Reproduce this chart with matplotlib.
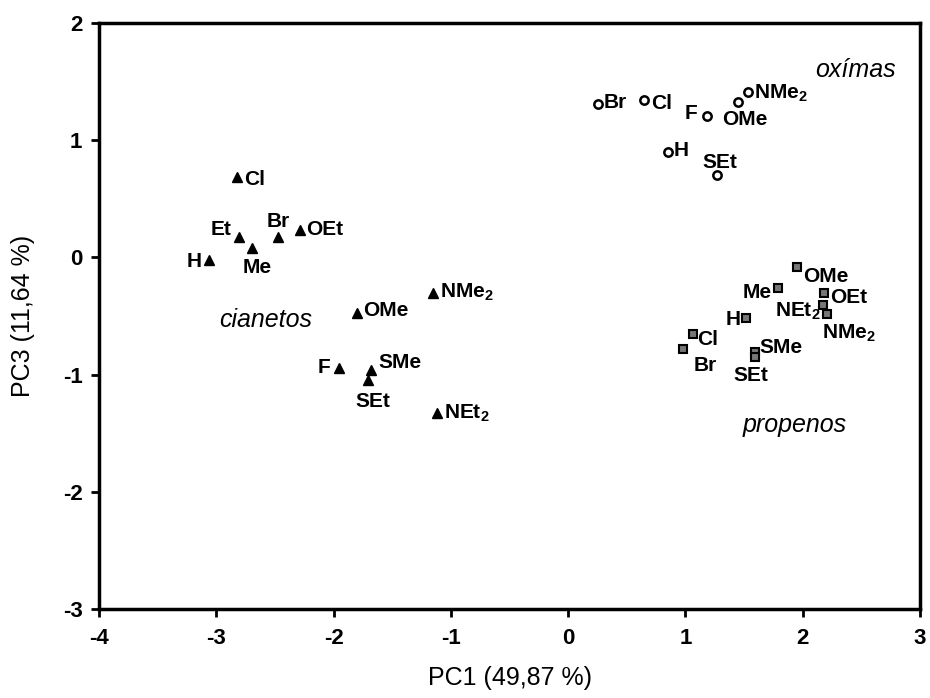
import matplotlib
matplotlib.use('Agg')
import matplotlib.pyplot as plt

# PCA scores (PC1 vs PC3)
cn_labels = ['Cl', 'Et', 'Me', 'H', 'Br', 'OEt', 'OMe', 'NMe$_2$', 'F', 'SMe', 'SEt', 'NEt$_2$']
cn_x = [-2.82, -2.81, -2.70, -3.06, -2.47, -2.29, -1.80, -1.15, -1.95, -1.68, -1.71, -1.12]
cn_y = [0.69, 0.17, 0.08, -0.02, 0.17, 0.23, -0.47, -0.30, -0.94, -0.96, -1.05, -1.33]

ox_labels = ['Br', 'Cl', 'F', 'OMe', 'NMe$_2$', 'H', 'SEt']
ox_x = [0.25, 0.65, 1.18, 1.45, 1.53, 0.85, 1.27]
ox_y = [1.31, 1.34, 1.21, 1.33, 1.41, 0.90, 0.70]

pr_labels = ['OMe', 'Me', 'OEt', 'NEt$_2$', 'NMe$_2$', 'H', 'Cl', 'Br', 'SMe', 'SEt']
pr_x = [1.95, 1.79, 2.18, 2.17, 2.21, 1.52, 1.06, 0.98, 1.59, 1.59]
pr_y = [-0.08, -0.26, -0.30, -0.41, -0.48, -0.52, -0.65, -0.78, -0.81, -0.85]

group_names = ['cianetos', 'oxímas', 'propenos']

# label placement (pixel offsets from marker, horizontal alignment)
cn_off = [(7, -3, 'left'), (-7, 8, 'right'), (6, -19, 'center'), (-8, -2, 'right'),
          (0, 16, 'center'), (7, 1, 'left'), (6, 2, 'left'), (7, 0, 'left'),
          (-9, 0, 'right'), (7, 7, 'left'), (5, -21, 'center'), (7, 0, 'left')]
ox_off = [(6, 1, 'left'), (7, -3, 'left'), (-9, 2, 'right'), (7, -18, 'center'),
          (6, -1, 'left'), (6, 1, 'left'), (3, 13, 'center')]
pr_off = [(6, -10, 'left'), (-6, -5, 'right'), (6, -5, 'left'), (-2, -6, 'right'),
          (-5, -20, 'left'), (-6, -1, 'right'), (5, -6, 'left'), (10, -17, 'left'),
          (5, 5, 'left'), (-4, -18, 'center')]

plt.rcParams['font.family'] = ['Liberation Sans', 'DejaVu Sans']
plt.rcParams['mathtext.default'] = 'regular'
plt.rcParams['axes.unicode_minus'] = False

fig = plt.figure(figsize=(9.3, 6.98), dpi=100)
ax = fig.add_axes([0.1065, 0.1275, 0.8828, 0.8395])

ax.plot(cn_x, cn_y, '^', color='black', ms=6.5, mew=1)
ax.plot(ox_x, ox_y, 'o', mfc='white', mec='black', ms=6, mew=1.8)
ax.plot(pr_x, pr_y, 's', mfc='#777777', mec='black', ms=6, mew=1.5)


def put_labels(xs, ys, labels, offs):
    for x, y, lab, (dx, dy, ha) in zip(xs, ys, labels, offs):
        ax.annotate(lab, (x, y), xytext=(dx, dy), textcoords='offset pixels',
                    ha=ha, va='center', fontsize=15, fontweight='bold')


put_labels(cn_x, cn_y, cn_labels, cn_off)
put_labels(ox_x, ox_y, ox_labels, ox_off)
put_labels(pr_x, pr_y, pr_labels, pr_off)

# group names
ax.text(-2.58, -0.53, group_names[0], style='italic', fontsize=18, ha='center', va='center')
ax.text(2.45, 1.60, group_names[1], style='italic', fontsize=18, ha='center', va='center')
ax.text(1.93, -1.43, group_names[2], style='italic', fontsize=18, ha='center', va='center')

ax.set_xlim(-4, 3)
ax.set_ylim(-3, 2)
ax.set_xticks(range(-4, 4))
ax.set_yticks(range(-3, 3))
for s in ax.spines.values():
    s.set_linewidth(2.5)
ax.tick_params(direction='out', length=6, width=2, labelsize=16)
ax.tick_params(axis='x', pad=8)
ax.tick_params(axis='y', pad=6)
for t in ax.get_xticklabels() + ax.get_yticklabels():
    t.set_fontweight('bold')

ax.set_xlabel('PC1 (49,87 %)', fontsize=18, labelpad=12)
ax.set_ylabel('PC3 (11,64 %)', fontsize=18, labelpad=20)

fig.savefig('out.png', dpi=100)
